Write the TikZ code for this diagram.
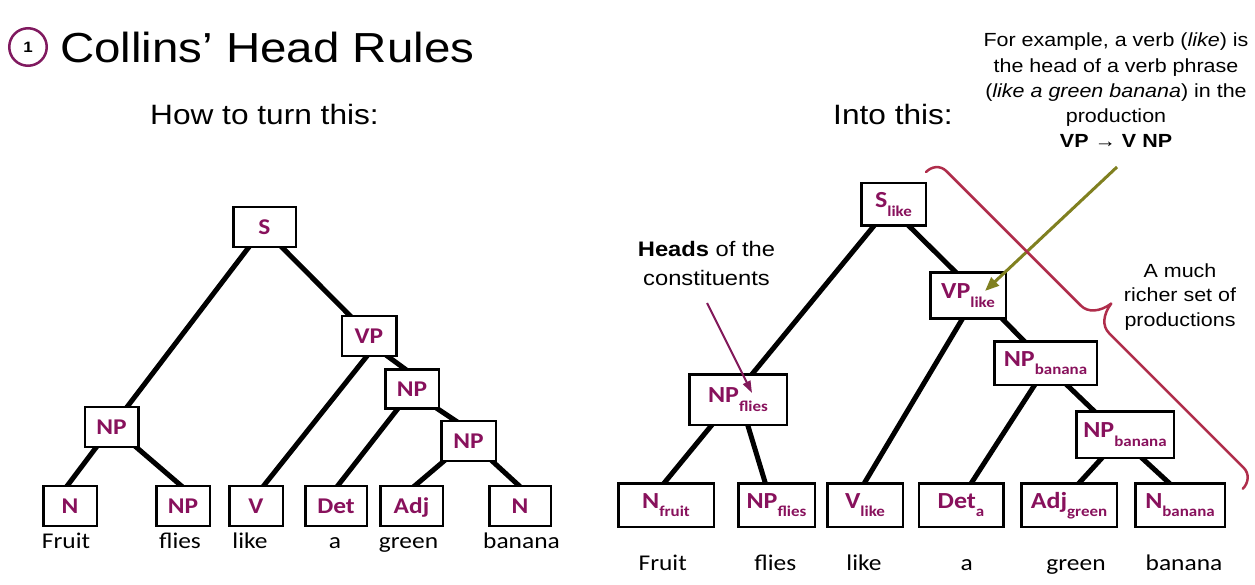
\documentclass[tikz,border=0pt]{standalone}
\usepackage{fontspec}
\setmainfont{Liberation Sans}[FakeStretch=1.13]
\newfontfamily\calfont{Carlito}[FakeStretch=1.13]
\usetikzlibrary{arrows.meta,calc}
\pgfdeclarelayer{back}
\pgfdeclarelayer{bg}
\pgfsetlayers{back,bg,main}
\definecolor{nodepurple}{RGB}{136,17,92}
\definecolor{bracered}{RGB}{175,45,75}
\definecolor{olivegreen}{RGB}{128,128,32}
\definecolor{headspurple}{RGB}{130,25,90}
\definecolor{circpurple}{RGB}{128,25,95}
\newcommand\headsub[2]{#1\raisebox{-8.5pt}{\fontsize{15}{15}\selectfont #2}}
\tikzset{
  lbox/.style={draw=black, line width=2.5pt, fill=white, inner sep=0pt,
    text=nodepurple, font=\calfont\bfseries\fontsize{22.5}{22.5}\selectfont,
    text height=14.5pt, text depth=0pt},
  rbox/.style={draw=black, line width=2.5pt, fill=white, inner sep=0pt,
    text=nodepurple, font=\calfont\bfseries\fontsize{23}{23}\selectfont,
    text height=14.8pt, text depth=8.5pt},
  word/.style={anchor=base, inner sep=0pt, font=\calfont\fontsize{22.5}{22.5}\selectfont},
  edge/.style={line width=5pt, black, shorten <=-5pt, shorten >=-5pt},
  plain/.style={inner sep=0pt},
}
\begin{document}
\begin{tikzpicture}[x=1pt,y=-1pt]
\useasboundingbox (0,0) rectangle (1255,585);
\begin{pgfonlayer}{back}
\fill[white] (0,0) rectangle (1255,585);
\end{pgfonlayer}

% title
\node[circle, draw=circpurple, line width=2.5pt, minimum size=37.5pt, inner sep=0pt,
  font=\bfseries\fontsize{15}{15}\selectfont] (one) at (28,47) {1};
\node[plain, anchor=base west, font=\fontsize{42}{42}\selectfont] (title) at (60,63) {Collins’ Head Rules};
\node[plain, anchor=base west, font=\fontsize{28}{28}\selectfont] (howto) at (150,125) {How to turn this:};
\node[plain, anchor=base west, font=\fontsize{28}{28}\selectfont] (into) at (833,125) {Into this:};

% left tree
\node[lbox, minimum width=62.5pt, minimum height=40pt] (S) at (264.5,227) {S};
\node[lbox, minimum width=54.5pt, minimum height=40pt] (VP) at (369,336) {VP};
\node[lbox, minimum width=53.5pt, minimum height=39pt] (NPm) at (412,389) {NP};
\node[lbox, minimum width=53.5pt, minimum height=40pt] (NPl) at (111.5,427) {NP};
\node[lbox, minimum width=54.5pt, minimum height=40pt] (NPr) at (468.5,441) {NP};
\node[lbox, minimum width=53.5pt, minimum height=40pt] (N1) at (70,506) {N};
\node[lbox, minimum width=53.5pt, minimum height=40pt] (NP2) at (183,506) {NP};
\node[lbox, minimum width=53.5pt, minimum height=40pt] (V) at (256,506) {V};
\node[lbox, minimum width=61.5pt, minimum height=40pt] (Det) at (336,506) {Det};
\node[lbox, minimum width=62.5pt, minimum height=40pt] (Adj) at (411.5,506) {Adj};
\node[lbox, minimum width=61.5pt, minimum height=40pt] (N2) at (520,506) {N};

\node[word] (wl1) at (66,548) {Fruit};
\node[word] (wl2) at (180,548) {flies};
\node[word] (wl3) at (250,548) {like};
\node[word] (wl4) at (335,548) {a};
\node[word] (wl5) at (408.5,548) {green};
\node[word] (wl6) at (521.5,548) {banana};

% right tree
\node[rbox, minimum width=64.5pt, minimum height=42.5pt] (Sl) at (893.5,204.5) {\headsub{S}{like}};
\node[rbox, minimum width=75.5pt, minimum height=45.5pt] (VPl) at (968,295.5) {\headsub{VP}{like}};
\node[rbox, minimum width=97.5pt, minimum height=50.5pt] (NPf) at (738,399.5) {\headsub{NP}{flies}};
\node[rbox, minimum width=102.5pt, minimum height=43.5pt] (NPb1) at (1045.5,363) {\headsub{NP}{banana}};
\node[rbox, minimum width=97.5pt, minimum height=46.5pt] (NPb2) at (1125,434.5) {\headsub{NP}{banana}};
\node[rbox, minimum width=95.5pt, minimum height=43.5pt] (Nf) at (666,505) {\headsub{N}{fruit}};
\node[rbox, minimum width=76.5pt, minimum height=43.5pt] (NPfl) at (776.5,505) {\headsub{NP}{flies}};
\node[rbox, minimum width=75.5pt, minimum height=43.5pt] (Vl) at (865,505) {\headsub{V}{like}};
\node[rbox, minimum width=84.5pt, minimum height=43.5pt] (Deta) at (961,505) {\headsub{Det}{a}};
\node[rbox, minimum width=95.5pt, minimum height=43.5pt] (Adjg) at (1069,505) {\headsub{Adj}{green}};
\node[rbox, minimum width=89.5pt, minimum height=43.5pt] (Nb) at (1180,505) {\headsub{N}{banana}};

\node[word] (wr1) at (662.7,570) {Fruit};
\node[word] (wr2) at (775.4,570) {flies};
\node[word] (wr3) at (864,570) {like};
\node[word] (wr4) at (966.7,570) {a};
\node[word] (wr5) at (1076,570) {green};
\node[word] (wr6) at (1184,570) {banana};

% edges
\begin{pgfonlayer}{bg}
\draw[edge] ([xshift=-16.5pt]S.south) -- ([xshift=16.5pt]NPl.north);
\draw[edge] ([xshift=18.5pt]S.south) -- ([xshift=-20pt]VP.north);
\draw[edge] ([xshift=-3pt]VP.south) -- ([xshift=8.5pt]V.north);
\draw[edge] ([xshift=20pt]VP.south) -- ([xshift=-8pt]NPm.north);
\draw[edge] ([xshift=-15pt]NPm.south) -- ([xshift=2.5pt]Det.north);
\draw[edge] ([xshift=27pt]NPm.south) -- ([xshift=-14.5pt]NPr.north);
\draw[edge] ([xshift=-26pt]NPr.south) -- ([xshift=4.5pt]Adj.north);
\draw[edge] ([xshift=25pt]NPr.south) -- ([xshift=-2pt]N2.north);
\draw[edge] ([xshift=-16pt]NPl.south) -- ([xshift=-2pt]N1.north);
\draw[edge] ([xshift=26pt]NPl.south) -- ([xshift=-3pt]NP2.north);

\draw[edge] ([xshift=-20.5pt]Sl.south) -- ([xshift=15pt]NPf.north);
\draw[edge] ([xshift=16.5pt]Sl.south) -- ([xshift=-13pt]VPl.north);
\draw[edge] ([xshift=-6pt]VPl.south) -- (Vl.north);
\draw[edge] ([xshift=35pt]VPl.south) -- ([xshift=-22.5pt]NPb1.north);
\draw[edge] ([xshift=-27pt]NPf.south) -- ([xshift=-1pt]Nf.north);
\draw[edge] ([xshift=10pt]NPf.south) -- ([xshift=-11.5pt]NPfl.north);
\draw[edge] ([xshift=-11.5pt]NPb1.south) -- ([xshift=11pt]Deta.north);
\draw[edge] ([xshift=22.5pt]NPb1.south) -- ([xshift=-32pt]NPb2.north);
\draw[edge] ([xshift=-24pt]NPb2.south) -- ([xshift=11pt]Adjg.north);
\draw[edge] ([xshift=18pt]NPb2.south) -- ([xshift=-12pt]Nb.north);
\end{pgfonlayer}

% annotations
\node[plain, anchor=north, align=center, font=\fontsize{19}{25.3}\selectfont] (note) at (1116,32.8)
  {For example, a verb (\textit{like}) is\\the head of a verb phrase\\(\textit{like a green banana}) in the\\production\\\textbf{VP → V NP}};
\node[plain, anchor=north, align=center, font=\fontsize{21}{29}\selectfont] (heads) at (706.5,241.5)
  {\textbf{Heads} of the\\constituents};
\node[plain, anchor=north, align=center, font=\fontsize{19}{24.5}\selectfont] (richer) at (1180,263.4)
  {A much\\richer set of\\productions};

\coordinate (oliveStart) at (1117,167);
\draw[olivegreen, line width=3pt, -{Triangle[length=14pt,width=11pt]}]
  (oliveStart) -- ($(VPl.center)+(17,-4.5)$);
\coordinate (headsStart) at (707,303);
\draw[headspurple, line width=2pt, -{Triangle[length=12pt,width=8pt]}]
  (headsStart) -- ($(NPf.center)+(14,-6.5)$);

% brace
\draw[bracered, line width=2.5pt, line cap=round, line join=round]
  (926,172) .. controls (931.66,166.34) and (940.14,164.93) .. (946.51,171.29)
  -- (1080.86,305.64)
  .. controls (1087.93,312.71) and (1099.95,312.00) .. (1111.26,303.51)
  .. controls (1102.78,314.83) and (1102.07,326.14) .. (1109.14,333.21)
  -- (1243.49,467.56)
  .. controls (1249.85,473.93) and (1248.44,483.12) .. (1242.78,488.78);
\end{tikzpicture}
\end{document}
